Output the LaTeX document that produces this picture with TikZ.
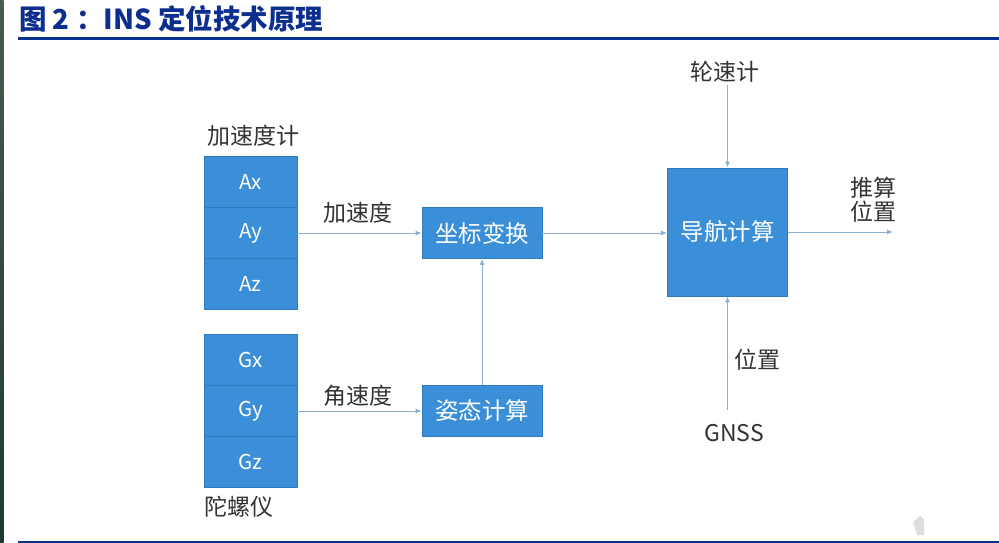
\documentclass[tikz,border=0pt]{standalone}
\usepackage{fontspec}
\setmainfont{Noto Sans CJK SC}
\newfontfamily\cjk{Noto Sans CJK SC}
\usetikzlibrary{arrows.meta,positioning}
\definecolor{boxblue}{HTML}{3A8FD8}
\definecolor{boxedge}{HTML}{2F7BC0}
\definecolor{linkblue}{HTML}{8BB0D8}
\definecolor{titleblue}{HTML}{0B2E8F}
\definecolor{rulblue}{HTML}{0A3391}
\definecolor{txtgray}{HTML}{333333}
\definecolor{stripa}{HTML}{4A5A4C}
\definecolor{stripb}{HTML}{1E3A30}
\tikzset{
  cell/.style={draw=boxedge, line width=0.8pt, fill=boxblue, minimum width=93pt, minimum height=51pt, inner sep=0pt, text=white, font=\cjk\fontsize{20.5}{24}\selectfont},
  procbox/.style={draw=boxedge, line width=0.8pt, fill=boxblue, minimum width=120pt, minimum height=51pt, inner sep=0pt, text=white, font=\cjk\fontsize{23.5}{27}\selectfont},
  lbl/.style={text=txtgray, inner sep=2pt, font=\cjk\fontsize{23}{27}\selectfont},
  link/.style={draw=linkblue, line width=1pt, -{Latex[length=6pt,width=5pt]}},
}
\begin{document}
\begin{tikzpicture}[x=1pt,y=-1pt]
\useasboundingbox (0,0) rectangle (999,543);
\fill[white] (0,0) rectangle (999,543);
\shade[top color=stripa, bottom color=stripb] (0,0) rectangle (3.5,543);
% title
\node[anchor=west, inner sep=0pt, text=titleblue, font=\cjk\bfseries\fontsize{27.5}{31}\selectfont] (title) at (19,19) {图 2 ：INS 定位技术原理};
\fill[rulblue] (18,37.5) rectangle (999,40);
\fill[rulblue] (18,540.5) rectangle (999,543);
% watermark
\fill[black!13] (913,522) -- (920,516) -- (924,519) -- (924,535) -- (917,535) -- cycle;
% accelerometer
\node[cell] (ax) at (250.5,182) {Ax};
\node[cell] (ay) at (250.5,233) {Ay};
\node[cell] (az) at (250.5,284) {Az};
\node[lbl] (acclbl) at (253,136) {加速度计};
% gyro
\node[cell] (gx) at (250.5,360) {Gx};
\node[cell] (gy) at (250.5,411) {Gy};
\node[cell] (gz) at (250.5,462) {Gz};
\node[lbl, anchor=west, inner sep=0pt] (gyrolbl) at (204,507) {陀螺仪};
% processing
\node[procbox] (coord) at (482,233) {坐标变换};
\node[procbox] (att) at (482,411) {姿态计算};
\node[procbox, minimum width=120pt, minimum height=128pt] (nav) at (727.5,232) {导航计算};
% labels
\node[lbl] (acc) at (358,213) {加速度};
\node[lbl] (ang) at (358,396) {角速度};
\node[lbl] (wheel) at (725,72) {轮速计};
\node[lbl, align=center] (outlbl) at (873,200) {推算\\[-3pt]位置};
\node[lbl] (pos) at (757,360) {位置};
\node[lbl] (gnss) at (734,433) {GNSS};
\coordinate (outpt) at (893,232);
\coordinate (gtop) at (727.5,410);
% connectors
\draw[link] (ay.east) -- (coord.west);
\draw[link] (gy.east) -- (att.west);
\draw[link] (att.north) -- (coord.south);
\draw[link] (coord.east) -- (coord.east -| nav.west);
\draw[link] (nav.north |- wheel.south) -- (nav.north);
\draw[link] (nav.east |- outpt) -- (outpt);
\draw[link] (gtop) -- (nav.south);
\end{tikzpicture}
\end{document}
